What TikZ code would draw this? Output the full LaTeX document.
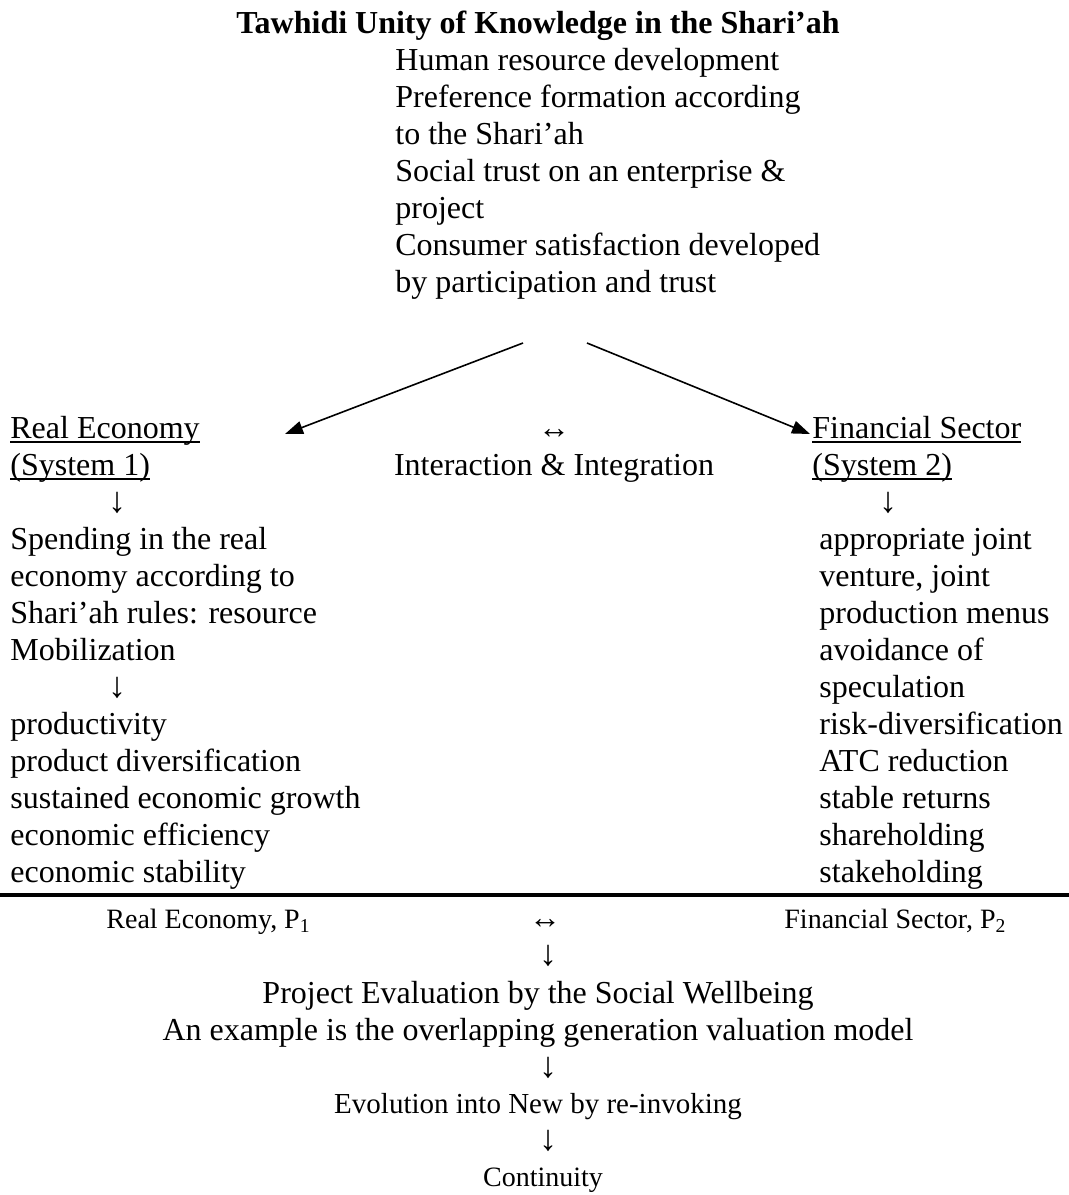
\documentclass[tikz,border=0pt]{standalone}
\usepackage{fontspec}
\setmainfont{Liberation Serif}
\usepackage{tikz}
\usetikzlibrary{arrows.meta}

\newsavebox\ulbox
\newcommand{\ulined}[1]{\sbox\ulbox{#1}\rlap{\rule[-2.3pt]{\wd\ulbox}{0.65pt}}\usebox\ulbox}

\begin{document}
\begin{tikzpicture}[
    x=0.5pt, y=-0.5pt,
    txt/.style={inner sep=0pt, align=left, font=\fontsize{16}{18.5}\selectfont},
    smalltxt/.style={inner sep=0pt, align=left, font=\fontsize{14}{16}\selectfont},
    downtxt/.style={inner sep=0pt, anchor=base, font=\fontsize{18}{18.5}\selectfont},
    arrow/.style={-{Triangle[length=9pt, width=6.5pt]}, line width=0.8pt}
]
\useasboundingbox (0,0) rectangle (1069,1195);

% heading and the common ground (base = last line)
\node[txt, anchor=base, font=\fontsize{16}{18.5}\selectfont\bfseries] (title) at (538,33) {Tawhidi Unity of Knowledge in the Shari’ah};
\node[txt, anchor=base west] (factors) at (395,292) {Human resource development\\Preference formation according\\to the Shari’ah\\Social trust on an enterprise \&\\project\\Consumer satisfaction developed\\by participation and trust};

% the two systems
\node[txt, anchor=base west] (realeco) at (10,475) {\ulined{Real Economy}\\\ulined{(System 1)}};
\node[txt, anchor=base, align=center] (interact) at (554,475) {↔\\Interaction \& Integration};
\node[txt, anchor=base west] (finsec) at (812,475) {\ulined{Financial Sector}\\\ulined{(System 2)}};

\coordinate (lsrc) at (523,343);
\coordinate (rsrc) at (587,343);
\coordinate (ltip) at (285,434);
\coordinate (rtip) at (810,434);
\draw[arrow] (lsrc) -- (ltip);
\draw[arrow] (rsrc) -- (rtip);

% real economy column
\node[downtxt] (realdown) at (117,512) {↓};
\node[txt, anchor=base west] (spending) at (10,660) {Spending in the real\\economy according to\\Shari’ah rules: resource\\Mobilization};
\node[downtxt] (spenddown) at (117,697) {↓};
\node[txt, anchor=base west] (outcomes) at (10,882) {productivity\\product diversification\\sustained economic growth\\economic efficiency\\economic stability};

% financial sector column
\node[downtxt] (findown) at (888,512) {↓};
\node[txt, anchor=base west] (finitems) at (819,882) {appropriate joint\\venture, joint\\production menus\\avoidance of\\speculation\\risk-diversification\\ATC reduction\\stable returns\\shareholding\\stakeholding};

% rule and evaluation
\coordinate (rulel) at (0,895);
\coordinate (ruler) at (1069,895);
\draw[line width=2pt] (rulel) -- (ruler);

\node[smalltxt, anchor=base west] (realp) at (106,928) {Real Economy, P\textsubscript{1}};
\node[txt, anchor=base] (link) at (545,928) {↔};
\node[smalltxt, anchor=base west] (finp) at (784,928) {Financial Sector, P\textsubscript{2}};
\node[downtxt] (linkdown) at (548,965) {↓};
\node[txt, anchor=base, align=center] (evaluation) at (538,1040) {Project Evaluation by the Social Wellbeing\\An example is the overlapping generation valuation model};
\node[downtxt] (evaldown) at (548,1077) {↓};
\node[smalltxt, anchor=base, font=\fontsize{14.5}{16}\selectfont] (evolution) at (538,1113) {Evolution into New by re-invoking};
\node[downtxt] (evoldown) at (548,1150) {↓};
\node[smalltxt, anchor=base] (continuity) at (543,1186) {Continuity};

\end{tikzpicture}
\end{document}
